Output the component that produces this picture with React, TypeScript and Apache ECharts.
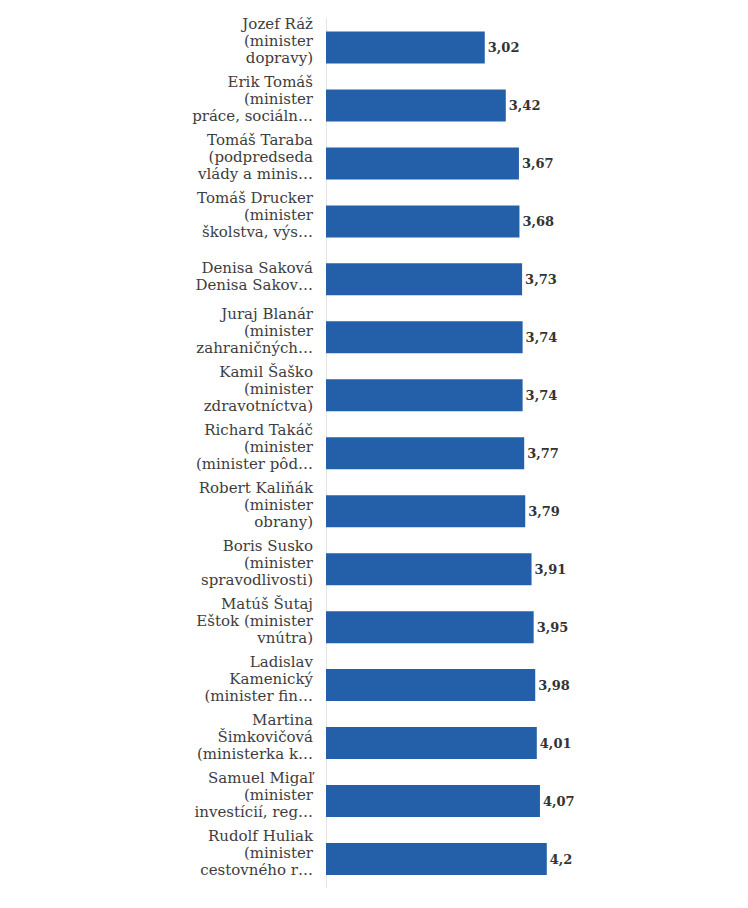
import React, { useEffect, useRef } from "react";
import * as echarts from "echarts";

const categories: string[] = [
  "Jozef Ráž\n(minister\ndopravy)",
  "Erik Tomáš\n(minister\npráce, sociáln…",
  "Tomáš Taraba\n(podpredseda\nvlády a minis…",
  "Tomáš Drucker\n(minister\nškolstva, výs…",
  "Denisa Saková\nDenisa Sakov…",
  "Juraj Blanár\n(minister\nzahraničných…",
  "Kamil Šaško\n(minister\nzdravotníctva)",
  "Richard Takáč\n(minister\n(minister pôd…",
  "Robert Kaliňák\n(minister\nobrany)",
  "Boris Susko\n(minister\nspravodlivosti)",
  "Matúš Šutaj\nEštok (minister\nvnútra)",
  "Ladislav\nKamenický\n(minister fin…",
  "Martina\nŠimkovičová\n(ministerka k…",
  "Samuel Migaľ\n(minister\ninvestícií, reg…",
  "Rudolf Huliak\n(minister\ncestovného r…",
];

const values: number[] = [
  3.02, 3.42, 3.67, 3.68, 3.73, 3.74, 3.74, 3.77, 3.79, 3.91, 3.95, 3.98, 4.01,
  4.07, 4.2,
];

export default function App() {
  const ref = useRef<HTMLDivElement>(null);

  useEffect(() => {
    if (!ref.current) return;
    const chart = echarts.init(ref.current, undefined, { renderer: "svg" });
    chart.setOption({
      animation: false,
      backgroundColor: "#ffffff",
      grid: { left: 326, right: 54, top: 18.5, bottom: 20, containLabel: false },
      xAxis: {
        type: "value",
        min: 0,
        max: 7,
        show: false,
        splitLine: { show: false },
      },
      yAxis: {
        type: "category",
        inverse: true,
        data: categories,
        axisLine: { show: true, lineStyle: { color: "#e6e6e6", width: 1 } },
        axisTick: { show: false },
        splitLine: { show: false },
        axisLabel: {
          fontFamily: "DejaVu Serif",
          fontSize: 15,
          color: "#3d3d3d",
          lineHeight: 17,
          align: "right",
          margin: 13,
          interval: 0,
          formatter: (v: string) => {
            const lines = v.split("\n");
            const tail = lines.length >= 3 ? "{s3| }" : "{s2| }";
            return lines.map((l) => `{a|${l}}`).join("\n") + "\n" + tail;
          },
          rich: {
            a: {
              fontFamily: "DejaVu Serif",
              fontSize: 15,
              color: "#3d3d3d",
              lineHeight: 17,
              align: "right",
            },
            s3: { fontSize: 1, lineHeight: 12 },
            s2: { fontSize: 1, lineHeight: 5 },
          },
        },
      },
      series: [
        {
          type: "bar",
          data: values,
          barWidth: 32,
          itemStyle: { color: "#2360a9" },
          label: {
            show: true,
            position: "right",
            distance: 3,
            fontFamily: "DejaVu Serif",
            fontWeight: "bold",
            fontSize: 13,
            color: "#333333",
            formatter: (p: any) => String(p.value).replace(".", ","),
          },
        },
      ],
    });
    return () => chart.dispose();
  }, []);

  return (
    <div
      ref={ref}
      style={{ position: "fixed", left: 0, top: 0, width: 748, height: 908 }}
    />
  );
}
